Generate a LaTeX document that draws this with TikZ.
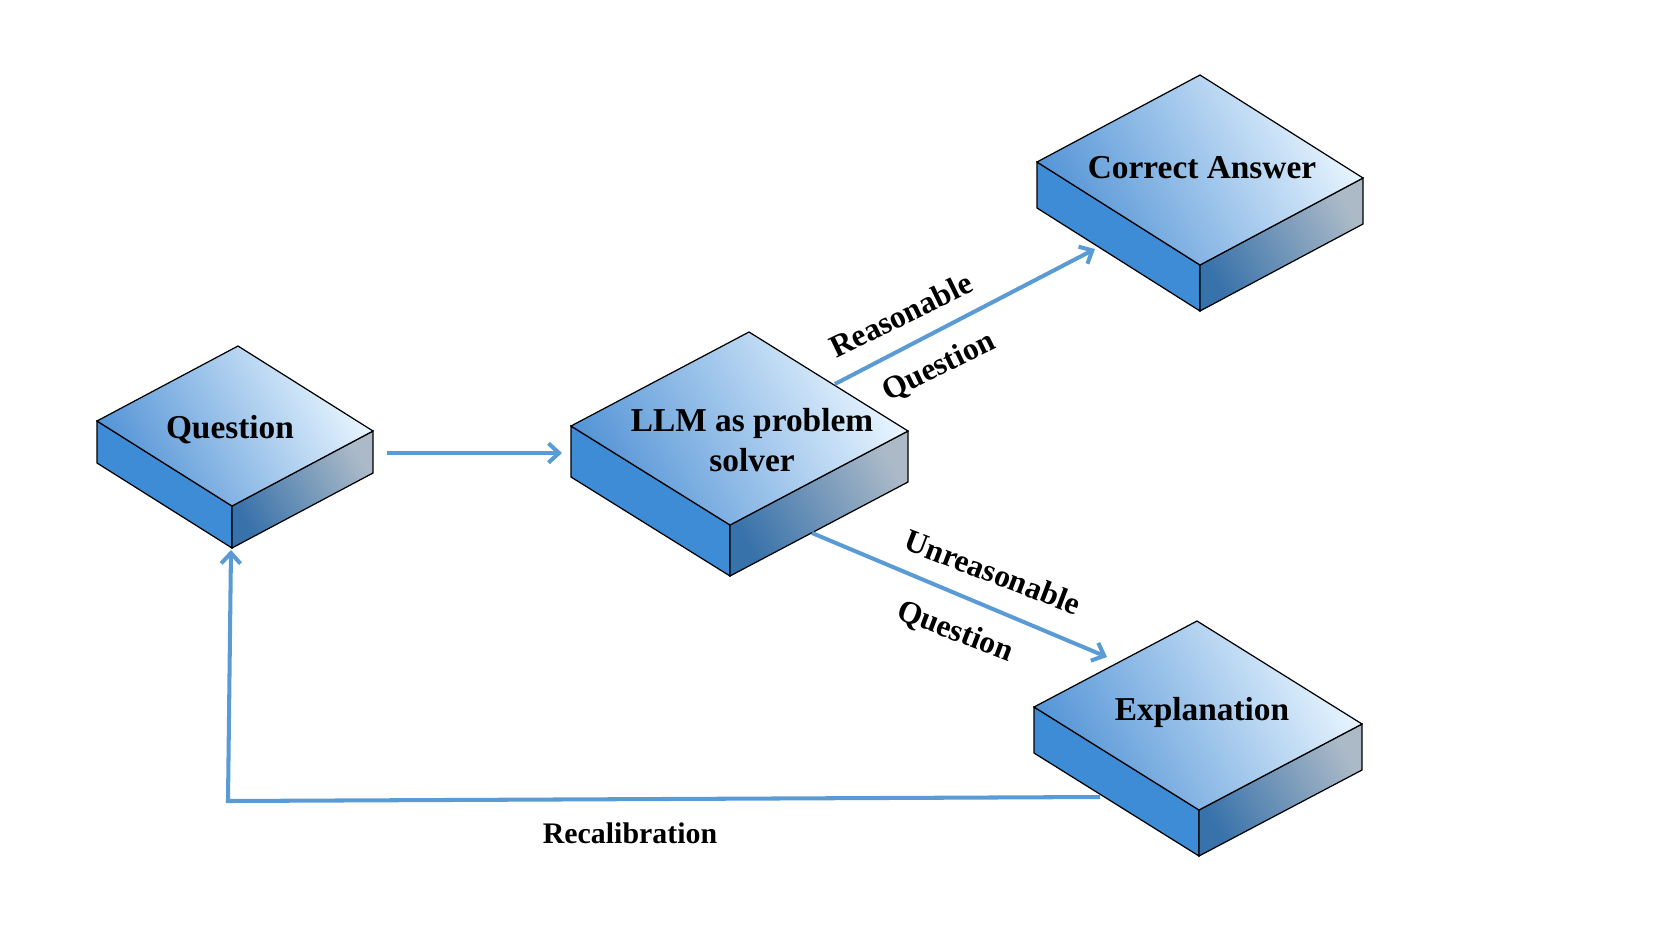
\documentclass[tikz,border=0pt]{standalone}
\usepackage{fontspec}
\setmainfont{Liberation Serif}
\usetikzlibrary{arrows.meta}
\definecolor{flow}{RGB}{91,155,213}
\definecolor{topdark}{RGB}{84,148,214}
\definecolor{toplight}{RGB}{232,245,255}
\definecolor{sidel}{RGB}{62,140,214}
\definecolor{sider}{RGB}{56,114,170}
\definecolor{siderlight}{RGB}{172,186,200}
\begin{document}
\begin{tikzpicture}[x=0.02cm,y=-0.02cm,>={Straight Barb[length=6pt,width=11pt]},
flowline/.style={draw=flow,line width=2.3pt,->},
lbl/.style={font=\fontsize{19}{23}\selectfont\bfseries,align=center},
edgelbl/.style={font=\fontsize{18}{22}\selectfont\bfseries},
pics/slab/.style args={#1,#2/#3,#4/#5}{code={
\path[draw,line width=.7pt,fill=sidel](#1,#2)--(#1+#3,#2+#4)--++(0,#5)--(#1,#2+#5)--cycle;
\path[draw,line width=.7pt,top color=siderlight,bottom color=sider,shading angle=-60](#1+#3,#2+#4)--(#3,#4)--++(0,#5)--(#1+#3,#2+#4+#5)--cycle;
\path[draw,line width=.7pt,top color=toplight,bottom color=topdark,shading angle=-60](0,0)--(#3,#4)--(#1+#3,#2+#4)--(#1,#2)--cycle;
}}]
\useasboundingbox(0,0)rectangle(1661,934);
% slabs
\pic at(238,346){slab={-141,75/135,85/42}};
\pic at(749,332){slab={-178,94/159,99/51}};
\pic at(1200,75){slab={-163,87/163,103/46}};
\pic at(1197,621){slab={-163,86/165,103/46}};
\node[lbl](qtext)at(230,430){Question};
\node[lbl](llmtext)at(752,440){LLM as problem\\solver};
\node[lbl](catext)at(1202,168){Correct Answer};
\node[lbl](extext)at(1202,712){Explanation};
% connector ends
\coordinate(qout)at(387,453);
\coordinate(llmin)at(562,453);
\coordinate(llmup)at(835,384);
\coordinate(cain)at(1095,249);
\coordinate(llmdown)at(812,533);
\coordinate(exin)at(1107,657);
\coordinate(exout)at(1100,797);
\coordinate(bend)at(228,801);
\coordinate(qin)at(231,550);
\draw[flowline](qout)--(llmin);
\draw[flowline](llmup)--(cain);
\draw[flowline](llmdown)--(exin);
\draw[flowline](exout)--(bend)--(qin);
\node[edgelbl,rotate=26](reas)at(901,315){Reasonable};
\node[edgelbl,rotate=26](reasq)at(939,367){Question};
\node[edgelbl,rotate=-21](unreas)at(993,572){Unreasonable};
\node[edgelbl,rotate=-21](unreasq)at(955,632){Question};
\node[edgelbl,font=\fontsize{17}{21}\selectfont\bfseries](recal)at(630,833){Recalibration};
\end{tikzpicture}
\end{document}
